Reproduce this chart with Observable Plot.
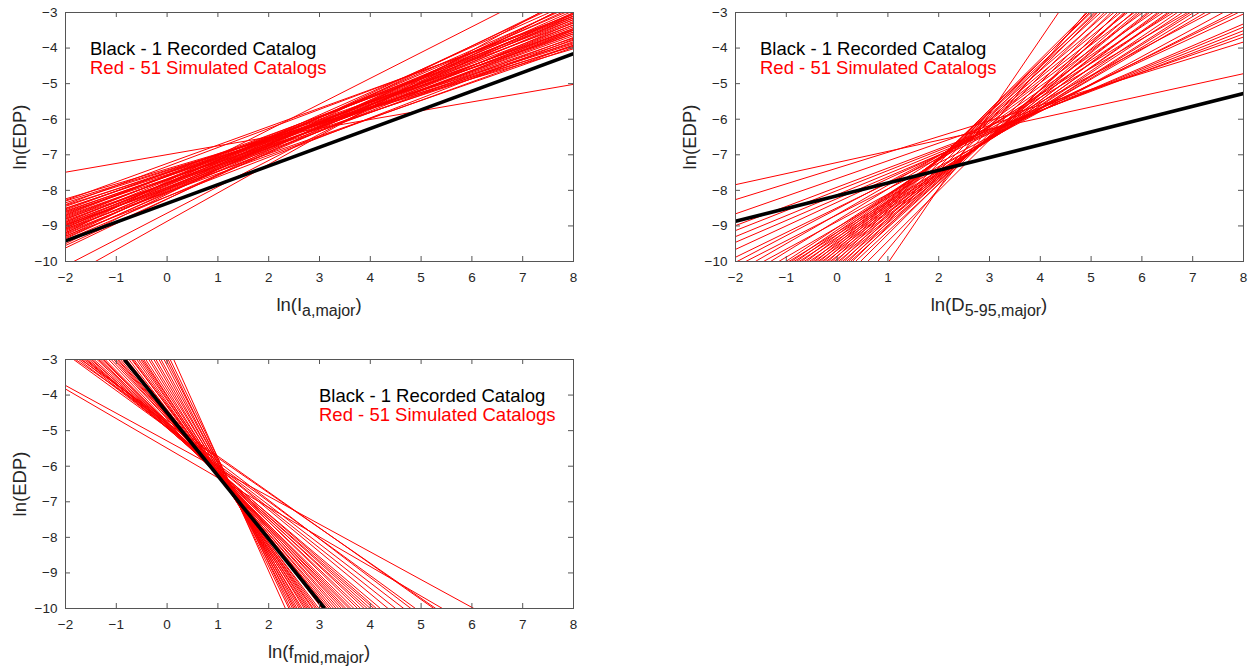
<!DOCTYPE html>
<html><head><meta charset="utf-8">
<script src="https://cdn.jsdelivr.net/npm/d3@7"></script>
<script src="https://cdn.jsdelivr.net/npm/@observablehq/plot@0.6"></script>
<style>
html,body{margin:0;padding:0;background:#fff;width:1252px;height:671px;overflow:hidden;font-family:"Liberation Sans",Arial,Helvetica,sans-serif;}
.panel{position:absolute;}
.panel svg text{font-size:13.5px !important;font-family:"Liberation Sans",Arial,sans-serif;}
.xlabel{position:absolute;font-size:18.5px;line-height:1;white-space:nowrap;transform:translateX(-50%);color:#262626;}
.xlabel .sub{font-size:16px;position:relative;top:5px;}
.ylabel{position:absolute;font-size:18.5px;line-height:1;white-space:nowrap;transform:translate(-50%,-50%) rotate(-90deg);color:#262626;}
.legend{position:absolute;font-size:18.5px;line-height:18.5px;white-space:nowrap;}
.legend .k{color:#000;}
.legend .r{color:#ff0000;}
</style></head><body>
<div id="root"></div>
<script>
// ---- data (ln values) ----
const xTicks = [-2, -1, 0, 1, 2, 3, 4, 5, 6, 7, 8];
const yTicks = [-10, -9, -8, -7, -6, -5, -4, -3];
const legendBlack = "Black - 1 Recorded Catalog";
const legendRed = "Red - 51 Simulated Catalogs";

// Panel 1: ln(I_a,major). Each line: [x1, y1, x2, y2]
const iaBlack = [[-2, -9.42, 8, -4.16]];
const iaRed = [
  [-2,-7.49,8,-5.02],[-2,-10.12,8,-2.72],[-2,-10.47,8,-2.47],[-2,-8.24,8,-4.02],
  [-2,-8.28,8,-3.10],[-2,-8.35,8,-3.85],[-2,-8.40,8,-3.05],[-2,-8.45,8,-3.60],
  [-2,-8.50,8,-3.78],[-2,-8.55,8,-3.30],[-2,-8.60,8,-3.55],[-2,-8.62,8,-3.92],
  [-2,-8.65,8,-3.45],[-2,-8.70,8,-3.20],[-2,-8.72,8,-3.65],[-2,-8.75,8,-3.50],
  [-2,-8.78,8,-3.35],[-2,-8.80,8,-3.82],[-2,-8.82,8,-3.10],[-2,-8.85,8,-3.60],
  [-2,-8.88,8,-3.40],[-2,-8.90,8,-3.02],[-2,-8.92,8,-3.55],[-2,-8.95,8,-3.25],
  [-2,-8.98,8,-3.70],[-2,-9.00,8,-2.90],[-2,-9.02,8,-3.45],[-2,-9.05,8,-3.15],
  [-2,-9.08,8,-3.92],[-2,-9.10,8,-2.80],[-2,-9.12,8,-3.35],[-2,-9.15,8,-3.05],
  [-2,-9.18,8,-3.50],[-2,-9.20,8,-1.95],[-2,-9.22,8,-3.20],[-2,-9.25,8,-2.95],
  [-2,-9.28,8,-3.75],[-2,-9.30,8,-2.60],[-2,-9.33,8,-3.10],[-2,-9.36,8,-2.85],
  [-2,-9.40,8,-3.28],[-2,-9.50,8,-2.55],[-2,-9.55,8,-3.00],[-2,-9.62,8,-2.75],
  [-2,-8.30,8,-3.95],[-2,-8.58,8,-3.72],[-2,-8.68,8,-3.15],[-2,-8.42,8,-3.88],
  [-2,-8.96,8,-3.98],[-2,-9.06,8,-2.70],[-2,-8.52,8,-3.48]
];

// Panel 2: ln(D_5-95,major)
const dBlack = [[-2, -8.87, 8, -5.28]];
const dRed = [
  [-2,-7.84,8,-4.72],[-2,-8.26,8,-3.83],[-2,-8.66,8,-3.69],[-2,-8.99,8,-3.60],
  [-2,-9.13,8,-3.51],[-2,-9.30,8,-3.41],[-2,-9.46,8,-3.32],[-2,-9.66,8,-3.04],
  [-2,-9.88,7.90,-3],
  [-1.97,-10,7.36,-3],[-1.80,-10,7.80,-3],[-1.61,-10,6.90,-3],[-1.45,-10,7.60,-3],
  [-1.31,-10,6.62,-3],[-1.15,-10,7.25,-3],[-1.01,-10,6.42,-3],[-0.95,-10,7.13,-3],
  [-0.90,-10,6.22,-3],[-0.85,-10,7.02,-3],[-0.80,-10,6.02,-3],[-0.75,-10,6.95,-3],
  [-0.70,-10,5.85,-3],[-0.65,-10,6.80,-3],[-0.60,-10,5.72,-3],[-0.55,-10,6.70,-3],
  [-0.50,-10,5.58,-3],[-0.46,-10,6.55,-3],[-0.42,-10,5.45,-3],[-0.38,-10,6.51,-3],
  [-0.34,-10,5.32,-3],[-0.30,-10,6.35,-3],[-0.26,-10,5.19,-3],[-0.22,-10,6.31,-3],
  [-0.18,-10,5.10,-3],[-0.14,-10,6.15,-3],[-0.10,-10,5.00,-3],[-0.06,-10,6.11,-3],
  [-0.02,-10,4.93,-3],[0.02,-10,5.96,-3],[0.06,-10,4.97,-3],[0.10,-10,5.91,-3],
  [0.14,-10,5.06,-3],[0.18,-10,5.82,-3],[0.22,-10,5.13,-3],[0.26,-10,5.68,-3],
  [0.30,-10,5.26,-3],[0.36,-10,5.65,-3],[0.46,-10,5.39,-3],[0.60,-10,5.52,-3],
  [0.80,-10,4.90,-3],[1.02,-10,4.36,-3]
];

// Panel 3: ln(f_mid,major)
const fBlack = [[-0.84, -3, 3.10, -10]];
const fRed = [
  [-2,-3.73,6.04,-10],[-2,-3.83,5.42,-10],
  [-1.84,-3,4.89,-10],[-1.80,-3,5.29,-10],[-1.74,-3,4.66,-10],[-1.70,-3,5.25,-10],
  [-1.68,-3,4.50,-10],[-1.64,-3,4.80,-10],[-1.60,-3,4.20,-10],[-1.58,-3,4.35,-10],
  [-1.54,-3,4.07,-10],[-1.50,-3,4.12,-10],[-1.48,-3,3.94,-10],[-1.44,-3,4.00,-10],
  [-1.38,-3,3.81,-10],[-1.35,-3,3.88,-10],[-1.32,-3,3.68,-10],[-1.28,-3,3.75,-10],
  [-1.25,-3,3.58,-10],[-1.22,-3,3.62,-10],[-1.15,-3,3.48,-10],[-1.10,-3,3.52,-10],
  [-1.05,-3,3.38,-10],[-1.02,-3,3.43,-10],[-0.98,-3,3.28,-10],[-0.96,-3,3.33,-10],
  [-0.92,-3,3.19,-10],[-0.88,-3,3.23,-10],[-0.84,-3,3.10,-10],[-0.80,-3,3.15,-10],
  [-0.75,-3,2.99,-10],[-0.70,-3,3.05,-10],[-0.68,-3,2.92,-10],[-0.65,-3,2.95,-10],
  [-0.60,-3,2.86,-10],[-0.56,-3,2.88,-10],[-0.52,-3,2.79,-10],[-0.49,-3,2.82,-10],
  [-0.46,-3,2.73,-10],[-0.42,-3,2.76,-10],[-0.36,-3,2.66,-10],[-0.32,-3,2.70,-10],
  [-0.26,-3,2.60,-10],[-0.22,-3,2.63,-10],[-0.16,-3,2.53,-10],[-0.12,-3,2.56,-10],
  [-0.06,-3,2.47,-10],[-0.02,-3,2.50,-10],[0.02,-3,2.40,-10],[0.06,-3,2.43,-10],
  [0.13,-3,2.33,-10]
];

// ---- rendering ----
const root = document.getElementById("root");
const ML = 65, MT = 12, PW = 508, PH = 249, MB = 41;

function makePanel(red, black, left, top, width, xlabelHTML, legendPos) {
  const marginRight = width - ML - PW;
  const axisColor = "#555";
  const chart = Plot.plot({
    width, height: MT + PH + MB,
    marginLeft: ML, marginRight, marginTop: MT, marginBottom: MB,
    x: {domain: [-2, 8]},
    y: {domain: [-10, -3]},
    style: {fontFamily: '"Liberation Sans", Arial, sans-serif', fontSize: "13.5px", color: "#262626", background: "white"},
    marks: [
      Plot.link(red, {x1: d => d[0], y1: d => d[1], x2: d => d[2], y2: d => d[3], stroke: "#ff0000", strokeWidth: 1, clip: true}),
      Plot.link(black, {x1: d => d[0], y1: d => d[1], x2: d => d[2], y2: d => d[3], stroke: "#000", strokeWidth: 3.6, clip: true}),
      Plot.frame({stroke: axisColor}),
      Plot.tickX(xTicks, {x: d => d, insetTop: PH - 5, stroke: axisColor}),
      Plot.tickX(xTicks, {x: d => d, insetBottom: PH - 5, stroke: axisColor}),
      Plot.tickY(yTicks, {y: d => d, insetLeft: PW - 5, stroke: axisColor}),
      Plot.tickY(yTicks, {y: d => d, insetRight: PW - 5, stroke: axisColor}),
      Plot.axisX(xTicks, {tickSize: 0, tickPadding: 11, label: null}),
      Plot.axisY(yTicks, {tickSize: 0, tickPadding: 8, label: null})
    ]
  });
  const div = document.createElement("div");
  div.className = "panel";
  div.style.left = left + "px";
  div.style.top = top + "px";
  div.appendChild(chart);
  root.appendChild(div);

  const xl = document.createElement("div");
  xl.className = "xlabel";
  xl.style.left = (left + ML + PW / 2) + "px";
  xl.style.top = (top + 296) + "px";
  xl.innerHTML = xlabelHTML;
  root.appendChild(xl);

  const yl = document.createElement("div");
  yl.className = "ylabel";
  yl.style.left = (left + 20) + "px";
  yl.style.top = (top + MT + PH / 2) + "px";
  yl.textContent = "ln(EDP)";
  root.appendChild(yl);

  const lg = document.createElement("div");
  lg.className = "legend";
  lg.style.left = legendPos[0] + "px";
  lg.style.top = legendPos[1] + "px";
  lg.innerHTML = '<div class="k">' + legendBlack + '</div><div class="r">' + legendRed + '</div>';
  root.appendChild(lg);
}

makePanel(iaRed, iaBlack, 0, 0, 600, 'ln(I<span class="sub">a,major</span>)', [90, 40]);
makePanel(dRed, dBlack, 670, 0, 582, 'ln(D<span class="sub">5-95,major</span>)', [760, 40]);
makePanel(fRed, fBlack, 0, 347, 600, 'ln(f<span class="sub">mid,major</span>)', [319, 387]);
</script>
</body></html>
